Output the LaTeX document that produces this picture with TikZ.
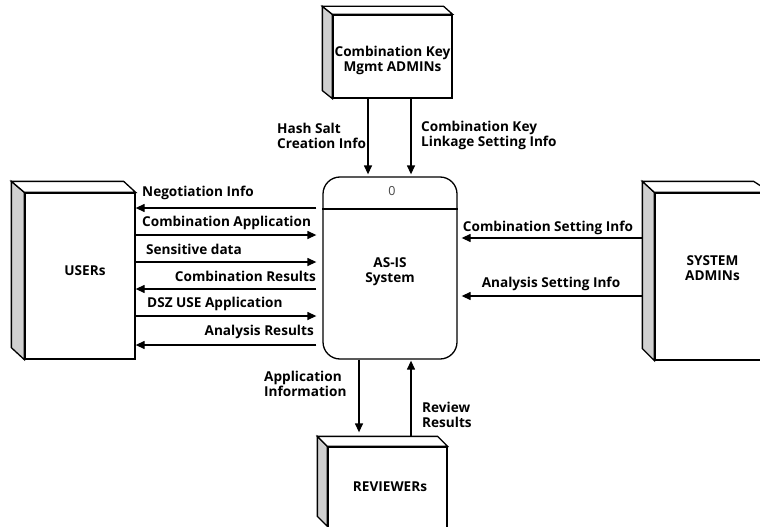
\documentclass[tikz,border=0pt]{standalone}
\usepackage{fontspec}
\setmainfont{Open Sans}
\usetikzlibrary{arrows.meta}
\definecolor{sidegray}{RGB}{208,208,208}
\definecolor{numgray}{RGB}{70,70,70}
\begin{document}
\begin{tikzpicture}[x=1pt,y=-1pt,
  txt/.style={font=\bfseries\fontsize{13.6}{15}\selectfont, inner sep=0pt, align=left},
  ctxt/.style={font=\bfseries\fontsize{13.6}{15}\selectfont, inner sep=0pt, align=center},
  face/.style={draw, line width=1.3pt, fill=white, inner sep=0pt, line join=miter},
  edge/.style={draw, line width=1.3pt, fill=white, line join=miter},
  side/.style={draw, line width=1.3pt, fill=sidegray, line join=miter},
  procbox/.style={draw, line width=1.3pt, rounded corners=17pt, inner sep=0pt,
    minimum width=134pt, minimum height=182pt},
  flow/.style={line width=1.3pt, -{Triangle[length=9pt,width=8pt]}}]
\useasboundingbox (0,0) rectangle (760,527);

% ---- external entities: front faces ----
\node[face, minimum width=119pt, minimum height=83pt] (keyadm) at (392.5,56.5) {};
\node[face, minimum width=110pt, minimum height=166pt] (users) at (80,276) {};
\node[face, minimum width=115pt, minimum height=167pt] (sysadm) at (712.5,276.5) {};
\node[face, minimum width=119pt, minimum height=100pt] (rev) at (387.5,497) {};

% ---- 3D top and side faces ----
% key management admins
\path[side] ([shift={(-10,-8)}]keyadm.north west) -- (keyadm.north west)
  -- (keyadm.south west) -- ([shift={(-10,-8)}]keyadm.south west) -- cycle;
\path[edge] ([shift={(-10,-8)}]keyadm.north west) -- ([shift={(-9,-8)}]keyadm.north east)
  -- (keyadm.north east) -- (keyadm.north west) -- cycle;
% users
\path[side] ([shift={(-13,-11)}]users.north west) -- (users.north west)
  -- (users.south west) -- ([shift={(-13,-12)}]users.south west) -- cycle;
\path[edge] ([shift={(-13,-11)}]users.north west) -- ([shift={(-12,-11)}]users.north east)
  -- (users.north east) -- (users.north west) -- cycle;
% system admins
\path[side] ([shift={(-12,-11)}]sysadm.north west) -- (sysadm.north west)
  -- (sysadm.south west) -- ([shift={(-12,-12)}]sysadm.south west) -- cycle;
\path[edge] ([shift={(-12,-11)}]sysadm.north west) -- ([shift={(-17,-11)}]sysadm.north east)
  -- (sysadm.north east) -- (sysadm.north west) -- cycle;
% reviewers
\path[side] ([shift={(-10,-10)}]rev.north west) -- (rev.north west)
  -- ([shift={(0,80)}]rev.north west) -- ([shift={(-10,70)}]rev.north west) -- cycle;
\path[edge] ([shift={(-10,-10)}]rev.north west) -- ([shift={(-10,-10)}]rev.north east)
  -- (rev.north east) -- (rev.north west) -- cycle;

% ---- entity texts ----
\node[ctxt] (keyadm-t) at (392.5,60) {Combination Key\\Mgmt ADMINs};
\node[ctxt] (users-t) at (85,271) {USERs};
\node[ctxt] (sysadm-t) at (712.5,268) {SYSTEM\\ADMINs};
\node[ctxt] (rev-t) at (390,487) {REVIEWERs};

% ---- process ----
\node[procbox] (proc) at (390,268) {};
\draw[line width=1.3pt] (proc.west |- 0,209) -- (proc.east |- 0,209);
\node[font=\fontsize{12.5}{15}\selectfont, text=numgray, inner sep=0pt] (proc-n) at (392,191) {0};
\node[ctxt] (proc-t) at (390,272) {AS-IS\\System};

% ---- flows with users ----
\draw[flow, shorten <=6pt] (proc.west |- 0,208) -- (users.east |- 0,208);
\draw[flow, shorten >=6pt] (users.east |- 0,235) -- (proc.west |- 0,235);
\draw[flow, shorten >=6pt] (users.east |- 0,262) -- (proc.west |- 0,262);
\draw[flow, shorten <=6pt] (proc.west |- 0,289) -- (users.east |- 0,289);
\draw[flow, shorten >=6pt] (users.east |- 0,316) -- (proc.west |- 0,316);
\draw[flow, shorten <=6pt] (proc.west |- 0,345) -- (users.east |- 0,345);
\node[txt, anchor=west] (l1) at (142,193) {Negotiation Info};
\node[txt, anchor=west] (l2) at (142,223) {Combination Application};
\node[txt, anchor=west] (l3) at (146,249) {Sensitive data};
\node[txt, anchor=east] (l4) at (316,276) {Combination Results};
\node[txt, anchor=west] (l5) at (147,304) {DSZ USE Application};
\node[txt, anchor=east] (l6) at (314,332) {Analysis Results};

% ---- flows with system admins ----
\coordinate (sysside) at ([xshift=-12pt]sysadm.west);
\draw[flow, shorten >=4pt] (sysside |- 0,238) -- (proc.east |- 0,238);
\draw[flow, shorten >=4pt] (sysside |- 0,296) -- (proc.east |- 0,296);
\node[ctxt] (r1) at (548,228) {Combination Setting Info};
\node[ctxt] (r2) at (551,284) {Analysis Setting Info};

% ---- flows with key management admins ----
\draw[flow, shorten >=2pt] ([xshift=-24.5pt]keyadm.south) -- ([xshift=-22pt]proc.north);
\draw[flow, shorten >=2pt] ([xshift=18.5pt]keyadm.south) -- ([xshift=21pt]proc.north);
\node[txt, anchor=west] (t1) at (277,135.5) {Hash Salt\\Creation Info};
\node[txt, anchor=west] (t2) at (421,135.5) {Combination Key\\Linkage Setting Info};

% ---- flows with reviewers ----
\coordinate (revtop) at ([yshift=10pt]rev.north);
\draw[flow, shorten >=4pt] ([xshift=-31pt]proc.south) -- ([xshift=-28.5pt]revtop);
\draw[flow, shorten >=1pt] ([xshift=23.5pt]revtop) -- ([xshift=21pt]proc.south);
\node[txt, anchor=west] (b1) at (264,384) {Application\\Information};
\node[txt, anchor=west] (b2) at (422,415) {Review\\Results};
\end{tikzpicture}
\end{document}
